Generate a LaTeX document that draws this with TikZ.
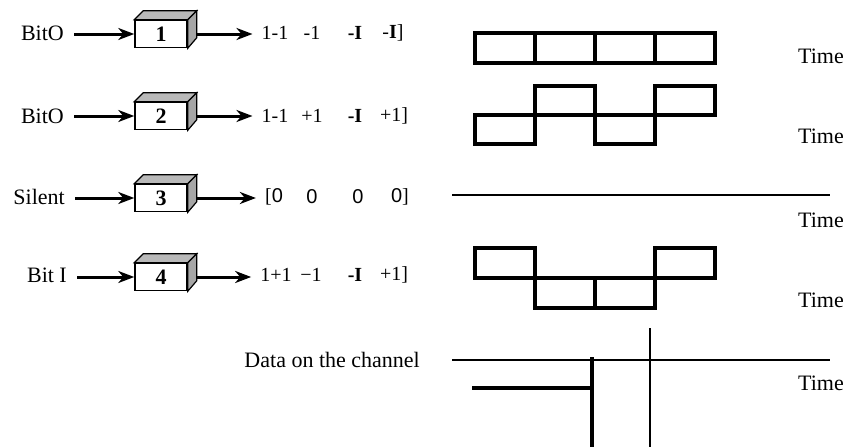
\documentclass[tikz,border=0pt]{standalone}
\usepackage{fontspec}
\setmainfont{Liberation Serif}
\newfontfamily\arialfont{Liberation Sans}
\usetikzlibrary{arrows.meta}
\begin{document}
\begin{tikzpicture}[x=1pt,y=-1pt,
  lbl/.style={font=\fontsize{22}{26}\selectfont, anchor=east, inner sep=0},
  seq/.style={font=\fontsize{20}{24}\selectfont, inner sep=0},
  tm/.style={font=\fontsize{22}{26}\selectfont, anchor=west, inner sep=0},
  cube/.style={draw, line width=1.5pt, minimum width=52pt, minimum height=27pt, inner sep=0, font=\bfseries\fontsize{22}{26}\selectfont},
  cubetop/.style={draw, line width=1.2pt, fill=gray!55},
  cubeside/.style={draw, line width=1.2pt, fill=gray!70},
  arr/.style={line width=3pt, -{Stealth[length=16pt,width=12pt,inset=5pt]}},
  wave/.style={line width=3.2pt, line join=miter},
]
\useasboundingbox (0,0) rectangle (848,447);

% ---- row labels ----
\node[lbl] (l1) at (64,33) {BitO};
\node[lbl] (l2) at (64,116) {BitO};
\node[lbl] (l3) at (65,197) {Silent};
\node[lbl] (l4) at (67,275) {Bit I};

% ---- cubes ----
\foreach \i/\y in {1/34,2/116,3/198,4/277}{
  \node[cube] (b\i) at (161,\y) {\i};
  \draw[cubetop] (b\i.north west) -- ++(9pt,9pt) -- ([shift={(9pt,9pt)}]b\i.north east) -- (b\i.north east) -- cycle;
  \draw[cubeside] (b\i.north east) -- ++(9pt,9pt) -- ++(0pt,-27pt) -- (b\i.south east) -- cycle;
  \draw[arr, shorten <=10pt] (b\i.west -| l\i.east) -- (b\i.west);
}

% ---- sequences ----
\node[seq] (s11) at (275,33) {1-1};
\node[seq] (s12) at (312,33) {-1};
\node[seq] (s13) at (355,33) {\textbf{-I}};
\node[seq] (s14) at (393,33) {-\textbf{I}]};

\node[seq] (s21) at (275,116) {1-1};
\node[seq] (s22) at (312,116) {+1};
\node[seq] (s23) at (355,116) {\textbf{-I}};
\node[seq] (s24) at (394,116) {+1]};

\node[seq] (s31) at (274,197) {[\arialfont 0};
\node[seq] (s32) at (312,197) {\arialfont 0};
\node[seq] (s33) at (358,197) {\arialfont 0};
\node[seq] (s34) at (400,197) {{\arialfont 0}]};

\node[seq] (s41) at (276,275) {1+1};
\node[seq] (s42) at (311,275) {−1};
\node[seq] (s43) at (355,275) {\textbf{-I}};
\node[seq] (s44) at (394,275) {+1]};

\foreach \i in {1,2,3,4}{
  \draw[arr] ([xshift=9pt]b\i.east) -- ([xshift=-9pt]s\i1.west |- b\i.east);
}

% ---- waveforms ----
\draw[wave] (475,33) rectangle (535,63);
\draw[wave] (535,33) rectangle (595,63);
\draw[wave] (595,33) rectangle (655,63);
\draw[wave] (655,33) rectangle (715,63);

\draw[wave] (475,115) rectangle (535,144);
\draw[wave] (535,86) rectangle (595,115);
\draw[wave] (595,115) rectangle (655,144);
\draw[wave] (655,86) rectangle (715,115);

\draw[line width=1.5pt] (452,195) -- (830,195);

\draw[wave] (475,248) rectangle (535,278);
\draw[wave] (535,278) rectangle (595,308);
\draw[wave] (595,278) rectangle (655,308);
\draw[wave] (655,248) rectangle (715,278);

% ---- channel ----
\node[lbl] (dc) at (420,360) {Data on the channel};
\draw[line width=2.8pt] (452,360) -- (830,360);
\draw[line width=3.4pt] (592,357) -- (592,447);
\draw[line width=2.8pt] (650,328) -- (650,447);
\draw[line width=3.4pt] (472,388) -- (592,388);

% ---- time labels ----
\node[tm] (t1) at (798,56) {Time};
\node[tm] (t2) at (798,136) {Time};
\node[tm] (t3) at (798,220) {Time};
\node[tm] (t4) at (798,300) {Time};
\node[tm] (t5) at (798,383) {Time};
\end{tikzpicture}
\end{document}
